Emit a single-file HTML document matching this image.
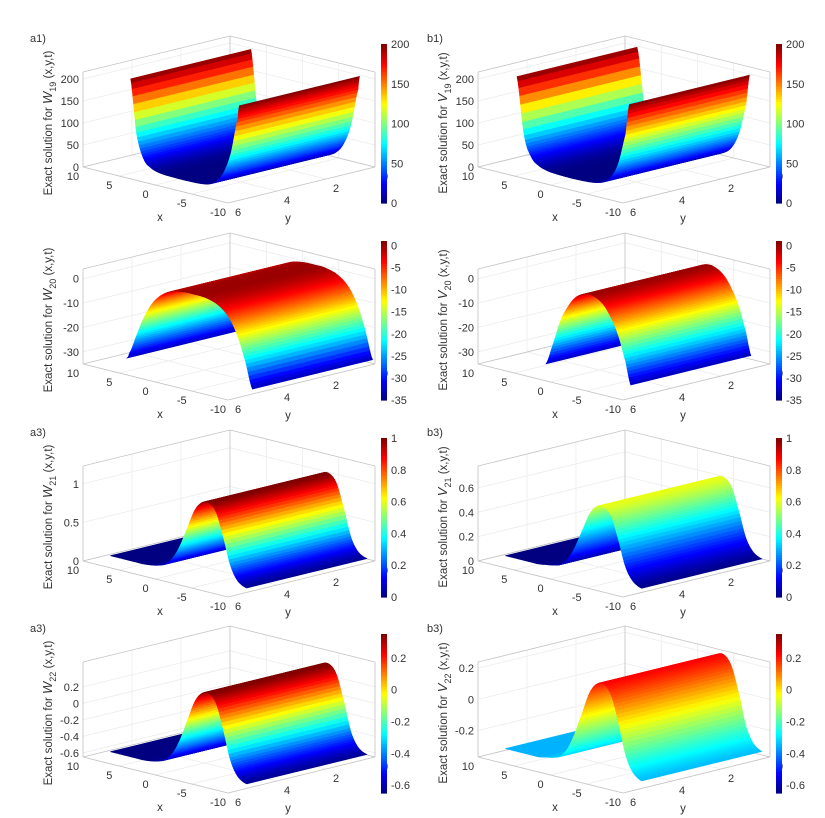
<!DOCTYPE html>
<html><head><meta charset="utf-8">
<style>
html,body{margin:0;padding:0;background:#fff;}
svg{display:block;font-family:"Liberation Sans",Arial,sans-serif;}
</style></head>
<body>
<svg id="fig" width="825" height="818" viewBox="0 0 825 818" xmlns="http://www.w3.org/2000/svg"></svg>
<script>
// ---------- data ----------
const w19X = [-8.2,-8,-7,-6,-5,-4,-3,-2,-1,0,1,2,3,4,5,6,6.8];
const w19Z = [200,170,85,38,15,5,1.5,0.5,0,0,0.3,1,3,9,25,80,200];
const v19X = [-7.5,-7,-6,-5,-4,-3,-2,-1,0,1,2,3,4,5,6,7,8];
const v19Z = [200,130,60,25,10,4,1.5,0.5,0,0,0.5,1.5,4,10,25,70,200];
const w20X = [-10,-9,-8,-7,-6,-5,-4,-3,-2,-1,0,1,2,3,4,5,6,7,7.3];
const w20Z = [-33,-22,-13,-7,-3.5,-1.5,-0.5,0,0,0,-0.3,-1,-2.5,-5,-9,-15,-23,-31,-33];
const v20X = [-7.7,-7,-6,-5,-4,-3,-2,-1,0,1,2,3,4];
const v20Z = [-33,-24,-14,-7.5,-3,-0.8,0,-0.8,-3,-7.5,-14,-24,-33];
const w21X = [-9.2,-8,-7,-6,-5,-4,-3,-2,-1,0,1,2,3,4,5,6,7,8,9.6];
const w21Z = [0.02,0.08,0.25,0.6,0.9,1.0,0.98,0.85,0.6,0.35,0.17,0.07,0.03,0.01,0,0,0,0,0];
const v21X = [-9.2,-8,-7,-6,-5,-4,-3,-2,-1,0,1,2,3,4,5,6,7,8,9.6];
const v21Z = [0.01,0.05,0.15,0.36,0.54,0.6,0.59,0.51,0.36,0.21,0.1,0.04,0.02,0.01,0,0,0,0,0];
const w22X = [-9.2,-8,-7,-6,-5,-4,-3,-2,-1,0,1,2,3,4,5,6,7,8,9.6];
const w22Z = [-0.63,-0.57,-0.4,-0.05,0.25,0.35,0.33,0.2,-0.05,-0.3,-0.48,-0.58,-0.62,-0.64,-0.65,-0.65,-0.65,-0.65,-0.65];
const v22X = [-9.2,-8,-7,-6,-5,-4,-3,-2,-1,0,1,2,3,4,5,6,7,8,9.6];
const v22Z = [-0.34,-0.3,-0.2,0.0,0.16,0.22,0.21,0.14,0.0,-0.14,-0.25,-0.31,-0.33,-0.34,-0.35,-0.35,-0.35,-0.35,-0.35];

const xTicks = [-10,-5,0,5,10];
const yTicks = [0,2,4,6];
const zTicks19 = [0,50,100,150,200];
const zTicks20 = [-30,-20,-10,0];
const zTicksW21 = [0,0.5,1];
const zTicksV21 = [0,0.2,0.4,0.6];
const zTicksW22 = [-0.6,-0.4,-0.2,0,0.2];
const zTicksV22 = [-0.2,0,0.2];
const cTicks19 = [0,50,100,150,200];
const cTicks20 = [-35,-30,-25,-20,-15,-10,-5,0];
const cTicks21 = [0,0.2,0.4,0.6,0.8,1];
const cTicks22 = [-0.6,-0.4,-0.2,0,0.2];

// ---------- panel layout ----------
const panels = [
 {id:'a1',fx:228,fy:203,col:0,lbl:'a1)',fn:'W',sub:'19',xs:w19X,zs:w19Z,zr:[0,216],zt:zTicks19,cr:[0,200],ct:cTicks19},
 {id:'b1',fx:623,fy:203,col:1,lbl:'b1)',fn:'V',sub:'19',xs:v19X,zs:v19Z,zr:[0,216],zt:zTicks19,cr:[0,200],ct:cTicks19},
 {id:'a2',fx:228,fy:400,col:0,lbl:'',fn:'W',sub:'20',xs:w20X,zs:w20Z,zr:[-35,4],zt:zTicks20,cr:[-35,1],ct:cTicks20},
 {id:'b2',fx:623,fy:400,col:1,lbl:'',fn:'V',sub:'20',xs:v20X,zs:v20Z,zr:[-35,4],zt:zTicks20,cr:[-35,1],ct:cTicks20},
 {id:'a3',fx:228,fy:597,col:0,lbl:'a3)',fn:'W',sub:'21',xs:w21X,zs:w21Z,zr:[0,1.23],zt:zTicksW21,cr:[0,1],ct:cTicks21},
 {id:'b3',fx:623,fy:597,col:1,lbl:'b3)',fn:'V',sub:'21',xs:v21X,zs:v21Z,zr:[0,0.78],zt:zTicksV21,cr:[0,1],ct:cTicks21},
 {id:'a4',fx:228,fy:793,col:0,lbl:'a3)',fn:'W',sub:'22',xs:w22X,zs:w22Z,zr:[-0.65,0.5],zt:zTicksW22,cr:[-0.65,0.35],ct:cTicks22},
 {id:'b4',fx:623,fy:793,col:1,lbl:'b3)',fn:'V',sub:'22',xs:v22X,zs:v22Z,zr:[-0.37,0.24],zt:zTicksV22,cr:[-0.65,0.35],ct:cTicks22}
];

const NS='http://www.w3.org/2000/svg';
const svg=document.getElementById('fig');
function mk(tag,attrs,parent){const e=document.createElementNS(NS,tag);for(const k in attrs)e.setAttribute(k,attrs[k]);(parent||svg).appendChild(e);return e;}
function jet(t){t=Math.max(0,Math.min(1,t));const c=v=>Math.round(255*Math.max(0,Math.min(1,v)));
 return 'rgb('+c(1.5-Math.abs(4*t-3))+','+c(1.5-Math.abs(4*t-2))+','+c(1.5-Math.abs(4*t-1))+')';}
function fmt(v){return (Math.round(v*100)/100).toString();}
function catmull(xs,zs,n){
 const out=[];
 for(let i=0;i<xs.length-1;i++){
  const z0=zs[Math.max(0,i-1)],z1=zs[i],z2=zs[i+1],z3=zs[Math.min(zs.length-1,i+2)];
  for(let k=0;k<n;k++){const t=k/n;
   const z=0.5*((2*z1)+(-z0+z2)*t+(2*z0-5*z1+4*z2-z3)*t*t+(-z0+3*z1-3*z2+z3)*t*t*t);
   out.push([xs[i]+(xs[i+1]-xs[i])*t,z]);}
 }
 out.push([xs[xs.length-1],zs[zs.length-1]]);
 return out;
}

panels.forEach(p=>{
 const g=mk('g',{});
 
 
 const P=(x,y,z)=>[p.fx-7.25*(x+10)+24.5*(6-y), p.fy-1.8*(x+10)-6*(6-y)-(z-p.zr[0])/(p.zr[1]-p.zr[0])*95];
 const line=(a,b,col,name)=>{const l=mk('line',{x1:a[0],y1:a[1],x2:b[0],y2:b[1],stroke:col,'stroke-width':0.8},g);
  return l;};
 const z0=p.zr[0],z1=p.zr[1];
 const gc='#ececec',ac='#c4c4c4';
 // grid
 xTicks.forEach(x=>{line(P(x,0,z0),P(x,0,z1),gc,'grid-x');line(P(x,0,z0),P(x,6,z0),gc,'grid-x-floor');});
 yTicks.forEach(y=>{line(P(10,y,z0),P(10,y,z1),gc,'grid-y');line(P(10,y,z0),P(-10,y,z0),gc,'grid-y-floor');});
 p.zt.forEach(z=>{line(P(10,6,z),P(10,0,z),gc,'grid-z');line(P(10,0,z),P(-10,0,z),gc,'grid-z');});
 // box
 line(P(10,6,z0),P(10,0,z0),ac,'box-edge');line(P(10,0,z0),P(-10,0,z0),ac,'box-edge');
 line(P(10,6,z0),P(10,6,z1),ac,'z-axis-line');line(P(10,0,z0),P(10,0,z1),ac,'box-edge');line(P(-10,0,z0),P(-10,0,z1),ac,'box-edge');
 line(P(10,6,z1),P(10,0,z1),ac,'box-edge');line(P(10,0,z1),P(-10,0,z1),ac,'box-edge');
 line(P(10,6,z0),P(-10,6,z0),ac,'x-axis-line');line(P(-10,6,z0),P(-10,0,z0),ac,'y-axis-line');
 // surface
 const pts=catmull(p.xs,p.zs,8).sort((a,b)=>b[0]-a[0]);
 const ya=0.1,yb=5.0;
 for(let i=0;i<pts.length-1;i++){
  const [xa,za]=pts[i],[xb,zb]=pts[i+1];
  const q=[P(xa,ya,za),P(xa,yb,za),P(xb,yb,zb),P(xb,ya,zb)];
  const col=jet(((za+zb)/2-p.cr[0])/(p.cr[1]-p.cr[0]));
  const s=mk('polygon',{points:q.map(v=>v[0].toFixed(1)+','+v[1].toFixed(1)).join(' '),fill:col,stroke:col,'stroke-width':0.6},g);
  
  
 }
 // tick labels
 const tx=(x,y,str,anchor,name,size)=>{const t=mk('text',{x:x,y:y,'font-size':size||11,fill:'#333','text-anchor':anchor||'middle'},g);t.textContent=str;
  return t;};
 xTicks.forEach(x=>{const q=P(x,6,z0);tx(q[0]-10,q[1]+13,String(x),'middle','x-tick-label');});
 yTicks.forEach(y=>{const q=P(-10,y,z0);tx(q[0]+10,q[1]+13,String(y),'middle','y-tick-label');});
 p.zt.forEach(z=>{const q=P(10,6,z);tx(q[0]-4,q[1]+4,fmt(z),'end','z-tick-label');});
 tx(p.fx-68,p.fy+18,'x','middle','x-axis-title',11.5);
 tx(p.fx+60,p.fy+19,'y','middle','y-axis-title',11.5);
 if(p.lbl){tx(p.col?427:30,p.fy-161,p.lbl,'start','panel-label',11);}
 // z title
 const cx=p.col?447:52, cy=p.fy-80;
 const t=mk('text',{x:cx,y:cy,'font-size':11.5,fill:'#333','text-anchor':'middle',transform:'rotate(-90 '+cx+' '+cy+')'},g);
 
 const s1=mk('tspan',{},t);s1.textContent='Exact solution for  ';
 const s2=mk('tspan',{'font-style':'italic','font-size':13},t);s2.textContent=p.fn;
 const s3=mk('tspan',{dy:4,'font-size':9},t);s3.textContent=p.sub;
 const s4=mk('tspan',{dy:-4},t);s4.textContent=' (x,y,t)';
 // colorbar
 const bx=p.col?776:381, by0=p.fy-159, bh=159;
 const cb=mk('g',{},g);
 const N=64;
 for(let i=0;i<N;i++){
  const r=mk('rect',{x:bx,y:(by0+bh*(1-(i+1)/N)).toFixed(2),width:6,height:(bh/N+0.6).toFixed(2),fill:jet((i+0.5)/N)},cb);
  
 }
 p.ct.forEach(v=>{const yy=by0+bh*(1-(v-p.cr[0])/(p.cr[1]-p.cr[0]));
  const t2=mk('text',{x:bx+10,y:yy+4,'font-size':11,fill:'#333'},cb);t2.textContent=fmt(v);
  });
});
</script>
</body></html>
